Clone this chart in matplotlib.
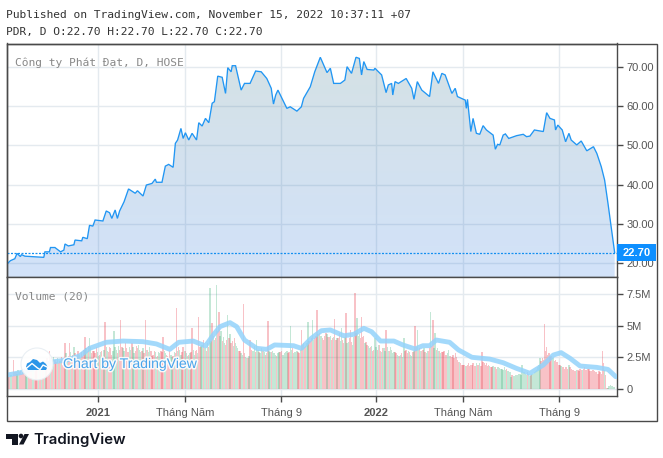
import numpy as np
import matplotlib
matplotlib.use('Agg')
import matplotlib.pyplot as plt
import matplotlib.patheffects as pe
from matplotlib.patches import Circle, Polygon, Rectangle
from matplotlib.lines import Line2D
from matplotlib.transforms import Affine2D

# sessions counted from the first bar of the chart
price_days = [0, 3, 7, 9, 12, 13, 16, 24, 33, 34, 38, 39, 43, 48, 51, 52, 55, 60, 61, 67, 68, 72, 74, 77, 79, 86, 89, 92, 94, 97, 99, 101, 105, 109, 115, 117, 122, 125, 130, 133, 134, 139, 142, 145, 149,
              151, 153, 156, 158, 160, 163, 166, 170, 172, 175, 178, 181, 184, 186, 189, 193, 196, 198, 201, 202, 205, 210, 213, 218, 223, 228, 233, 237, 239, 241, 243, 251, 254, 260, 264, 266, 272, 276, 281, 287,
              290, 293, 299, 303, 305, 309, 313, 316, 318, 320, 323, 329, 330, 336, 340, 342, 345, 346, 348, 351, 358, 363, 365, 368, 372, 379, 382, 387, 390, 393, 399, 402, 404, 411, 412, 413, 416, 418, 421, 424, 427, 430, 436, 438, 440, 442, 445, 447, 450, 457, 463, 466, 469, 473, 481, 484, 487, 491, 492, 494, 498, 501, 504, 506, 511, 515, 520, 526, 529, 533, 536, 539, 545]
price_values = [19.8, 20.65, 21.15, 22.5, 21.7, 22.2, 21.8, 21.65, 21.5, 22.9, 22.9, 24.0, 24.0, 22.9, 23.35, 24.9, 24.4, 24.7, 25.9, 25.7, 26.6, 26.25, 29.65, 29.45, 31.0, 30.75, 33.3, 32.85, 31.4, 33.55, 31.4, 33.3, 35.65, 38.9, 37.8, 38.45, 37.1, 39.9, 40.3, 41.4, 40.6, 40.6, 44.7, 45.15, 44.4,
                50.5, 51.35, 54.3, 51.75, 53.2, 51.35, 53.05, 51.35, 55.75, 54.9, 56.85, 55.75, 60.7, 61.1, 67.6, 67.3, 63.2, 69.75, 68.7, 70.25, 70.25, 64.05, 65.75, 65.75, 68.9, 68.7, 67.0, 64.5, 60.5, 62.8, 64.05, 59.4, 59.8, 58.7, 59.8, 61.95, 64.9, 68.7, 72.4, 68.5,
                69.6, 65.75, 65.75, 66.6, 70.0, 68.3, 72.4, 72.1, 67.9, 71.3, 69.3, 69.15, 69.6, 67.9, 63.4, 65.35, 65.75, 62.8, 66.2, 65.75, 67.0, 64.5, 61.7, 66.2, 64.05, 62.4, 68.7, 65.75, 68.3, 67.9, 63.2, 64.5, 62.4, 61.5, 59.4, 61.7, 53.5, 56.85, 53.05, 52.8, 55.0, 53.9, 52.6, 49.0, 50.25, 50.1, 52.6, 52.9, 51.75, 52.45, 52.8, 52.2, 52.35, 53.9, 53.5, 58.3, 56.85, 56.45, 53.9, 55.15, 53.9, 50.9, 53.05, 51.35, 50.1, 51.1, 48.6, 49.65, 47.95, 44.55, 41.15, 35.25, 22.7]
last_price = 22.70

# volume, millions of shares, sessions 0, 2, 4 ...
volume_even = [1.0, 0.9, 1.1, 2.3, 1.3, 1.5, 1.4, 1.6, 1.3, 1.5,
               1.7, 1.4, 2.0, 1.6, 1.9, 1.5, 2.1, 1.8, 2.4, 3.0,
               2.3, 2.5, 2.1, 2.0, 2.2, 1.9, 3.6, 2.4, 3.6, 2.2,
               3.3, 2.5, 3.0, 2.4, 2.6, 4.1, 3.0, 4.0, 2.8, 3.0,
               3.3, 2.6, 2.9, 2.5, 5.3, 3.0, 3.3, 2.7, 4.6, 3.1,
               3.4, 5.45, 3.2, 3.6, 2.9, 3.3, 3.6, 2.8, 3.4, 3.45,
               2.9, 3.2, 5.45, 3.1, 3.3, 2.6, 3.0, 2.5, 2.9, 3.0,
               4.1, 2.8, 2.6, 3.0, 2.5, 2.9, 6.4, 3.3, 2.7, 3.3,
               3.0, 2.6, 2.8, 4.8, 2.7, 3.1, 5.7, 3.4, 3.85, 3.2,
               3.6, 8.0, 5.2, 3.9, 8.2, 6.1, 4.6, 4.1, 3.5, 5.85,
               4.3, 3.8, 4.0, 3.4, 3.0, 2.8, 6.7, 2.5, 2.4, 3.85,
               3.0, 3.4, 3.85, 2.9, 3.2, 3.0, 2.7, 5.4, 2.9, 3.0,
               2.8, 2.6, 2.9, 3.0, 2.7, 2.9, 2.8, 5.0, 3.2, 2.9,
               3.0, 2.8, 4.65, 3.6, 3.4, 5.3, 3.8, 5.45, 4.0, 6.25,
               4.4, 4.2, 3.9, 4.4, 4.1, 4.2, 4.0, 5.5, 4.0, 4.4,
               4.85, 3.6, 6.0, 3.7, 4.65, 3.5, 7.6, 5.6, 4.3, 5.7,
               4.2, 3.7, 3.4, 3.3, 3.0, 4.0, 3.1, 3.45, 2.9, 3.2,
               4.65, 3.0, 3.3, 2.8, 2.95, 2.7, 2.6, 2.8, 4.0, 3.1,
               3.0, 2.7, 2.9, 5.0, 4.65, 3.2, 3.0, 3.2, 2.8, 3.0,
               6.05, 5.45, 4.4, 3.2, 3.0, 2.9, 3.0, 2.7, 3.1, 2.6,
               2.7, 2.85, 2.3, 2.1, 1.85, 1.9, 1.8, 2.0, 1.9, 2.0,
               1.8, 1.9, 2.0, 2.9, 2.0, 2.0, 1.9, 1.7, 1.8, 1.75,
               1.7, 1.65, 1.6, 1.7, 1.6, 1.4, 0.95, 1.0, 1.1, 1.05,
               1.2, 1.85, 1.3, 1.1, 1.2, 1.1, 1.2, 1.4, 1.7, 2.4,
               2.4, 5.1, 3.3, 2.8, 2.6, 2.4, 2.3, 2.1, 1.9, 1.75,
               1.6, 1.7, 1.85, 1.6, 1.5, 1.4, 1.5, 1.6, 1.5, 1.75,
               1.5, 1.6, 1.4, 1.5, 1.3, 1.2, 1.3, 3.0, 1.5, 0.03,
               0.25, 0.2, 0.1]
# sessions 1, 3, 5 ...
volume_odd = [0.9, 1.1, 1.0, 1.3, 1.2, 1.3, 1.2, 1.4, 1.3, 1.4,
              1.5, 1.6, 1.4, 1.7, 1.8, 1.6, 1.9, 2.0, 2.2, 2.4,
              2.1, 2.3, 2.4, 2.2, 2.5, 2.3, 2.8, 2.6, 2.9, 2.7,
              2.8, 3.0, 2.7, 2.9, 3.1, 3.2, 3.4, 3.3, 3.0, 2.8,
              2.9, 2.7, 3.0, 3.1, 3.3, 2.9, 3.2, 3.0, 3.3, 2.8,
              3.1, 3.3, 3.0, 3.2, 2.9, 3.1, 3.3, 3.0, 3.2, 3.1,
              3.0, 2.8, 3.1, 2.9, 3.0, 2.7, 2.9, 2.6, 2.8, 2.9,
              3.0, 2.7, 2.5, 2.7, 2.6, 2.8, 3.0, 3.1, 2.9, 3.0,
              2.8, 2.7, 2.9, 3.1, 3.0, 2.8, 3.3, 3.5, 3.2, 3.0,
              3.3, 3.8, 4.2, 4.0, 4.6, 4.2, 3.8, 3.6, 3.9, 4.0,
              3.6, 3.4, 3.6, 3.2, 3.0, 2.7, 2.8, 2.4, 2.6, 3.1,
              3.0, 2.9, 3.1, 2.8, 3.0, 2.9, 2.8, 3.0, 2.9, 2.8,
              2.7, 2.8, 2.9, 2.7, 2.8, 3.0, 2.9, 3.1, 2.8, 2.9,
              2.9, 3.1, 3.5, 3.3, 3.6, 3.8, 4.0, 3.9, 4.2, 4.3,
              4.2, 4.0, 4.2, 4.3, 4.1, 3.9, 4.1, 3.9, 4.0, 3.8,
              3.9, 4.1, 3.6, 4.0, 3.7, 4.1, 4.4, 4.2, 4.0, 4.1,
              3.6, 3.5, 3.2, 3.4, 3.1, 3.3, 3.5, 3.0, 3.2, 3.0,
              3.3, 3.0, 3.1, 2.9, 2.8, 2.6, 2.7, 2.5, 3.0, 2.8,
              2.9, 2.6, 3.0, 3.3, 3.1, 3.0, 3.1, 2.9, 3.0, 3.2,
              3.4, 3.2, 3.1, 3.0, 2.8, 2.9, 2.7, 2.8, 2.6, 2.5,
              2.4, 2.5, 2.1, 2.0, 1.9, 1.8, 1.9, 1.8, 1.9, 1.8,
              2.0, 1.9, 1.8, 2.1, 1.9, 1.8, 1.8, 1.7, 1.7, 1.6,
              1.7, 1.6, 1.5, 1.5, 1.4, 1.3, 1.1, 1.0, 1.1, 1.2,
              1.1, 1.3, 1.2, 1.3, 1.0, 1.2, 1.3, 1.5, 1.9, 2.2,
              2.3, 3.0, 2.7, 2.5, 2.4, 2.2, 2.1, 1.9, 1.8, 1.7,
              1.7, 1.6, 1.7, 1.5, 1.4, 1.5, 1.4, 1.5, 1.6, 1.5,
              1.6, 1.4, 1.5, 1.4, 1.3, 1.4, 1.2, 2.0, 1.1, 0.02,
              0.3, 0.2, 0.15]
# u = closed up (green), d = closed down (red)
dirs_even = ('dduddudddu' 'ddududdudd' 'dudduddudd' 'uddudduudd' 'duuddudduu' 'ududdududu' 'uuddudduud'
             'dudduuddud' 'duududdudu' 'uuduuduudu' 'uddudududd' 'uuuduudduu' 'ududuududu' 'uddudududd'
             'duddduddud' 'uddududuud' 'dduddudduu' 'duuududdud' 'uuddudduud' 'uduuddddud' 'dddudddddd'
             'ddudddddud' 'uuuuduuuuu' 'uuuuuduuuu' 'dddddudddd' 'ddudddddud' 'ddddddddud' 'uuu')
dirs_odd = ('duddudddud' 'dudddudddu' 'ddudddudud' 'dduddududd' 'udduudduud' 'ddudduuddu' 'dduuddudud'
            'uddudduudu' 'uddududuud' 'duuddududd' 'duuududuud' 'uduuduuudu' 'uuduuuduuu' 'dudduddudu'
            'uddudduddu' 'duuddududd' 'uduuduuddu' 'uduuduuudd' 'duuduuddud' 'duduudduud' 'dddddudddd'
            'udddddudud' 'uuuuuuduuu' 'uuuduuuuud' 'ddddudddud' 'dddddudddd' 'dddddddddu' 'uuu')

volume_ma_days = [0, 12, 24, 42, 54, 65, 74, 89, 104, 122, 134, 146, 154, 167, 178, 185, 191, 200, 206, 213, 224, 233, 240, 257, 264, 273, 282, 290,
                  302, 311, 320, 327, 335, 347, 355, 366, 373, 379, 385, 397, 405, 417, 433, 445, 457, 469, 481, 490, 497, 505, 514, 529, 539, 546]
volume_ma_values = [1.08, 1.27, 1.61, 2.14, 2.28, 2.59, 3.2, 3.68, 3.78, 3.73, 3.55, 3.12, 3.68, 3.78, 3.39, 4.26, 4.92, 5.24, 4.92, 3.86, 3.2, 3.12, 3.47, 3.41, 3.2, 4.0, 4.6, 4.66,
                    4.2, 4.31, 4.79, 4.52, 3.78, 3.78, 3.47, 3.15, 3.41, 3.41, 3.86, 3.68, 3.07, 2.49, 2.35, 2.06, 1.61, 1.22, 1.88, 2.67, 2.86, 2.41, 1.8, 1.69, 1.53, 0.95]

date_ticks = [81.9, 159.9, 246, 331.2, 409.2, 495.3]
date_labels = ['2021', 'Tháng Năm', 'Tháng 9', '2022', 'Tháng Năm', 'Tháng 9']
price_ticks = [20, 30, 40, 50, 60, 70]
volume_ticks = [0, 2.5, 5, 7.5]
volume_labels = ['0', '2.5M', '5M', '7.5M']

W, H = 663, 458
ink = '#4a4a4a'
blue = '#2196f3'
sans = ['Liberation Sans', 'DejaVu Sans']
mono = ['DejaVu Sans Mono']


def ax_box(x0, y0, x1, y1):
    return [x0 / W, 1 - y1 / H, (x1 - x0) / W, (y1 - y0) / H]


def bar_colors(dirs):
    return ['#53b987' if d == 'u' else '#eb4d5c' for d in dirs]


fig = plt.figure(figsize=(W / 100, H / 100), dpi=100, facecolor='white')
px = Affine2D().scale(1, -1).translate(0, H)  # reference pixels, y down

ax1 = fig.add_axes(ax_box(6.5, 43.5, 617, 277))
ax2 = fig.add_axes(ax_box(6.5, 277, 617, 396), sharex=ax1)

xmin, xmax = -0.45, 547.1
ymin, ymax = 16.5, 75.9

# area under the price with its soft vertical gradient
top_c = np.array([70, 125, 135, 0.23])
bot_c = np.array([30, 110, 225, 0.2])
t = np.linspace(0, 1, 128)[:, None]
grad = top_c * (1 - t) + bot_c * t
grad[:, :3] /= 255
area = ax1.fill_between(price_days, price_values, ymin, facecolor='none', edgecolor='none')
im = ax1.imshow(grad[:, None, :], extent=[xmin, xmax, ymin, ymax], aspect='auto', zorder=1.5)
im.set_clip_path(area.get_paths()[0], transform=ax1.transData)
ax1.plot(price_days, price_values, color=blue, lw=0.95, zorder=3, solid_joinstyle='miter')
ax1.axhline(last_price, color='#1490f0', lw=0.9, ls=(0, (1.6, 1.2)), zorder=3)
ax1.set_xlim(xmin, xmax)
ax1.set_ylim(ymin, ymax)
ax1.set_yticks(price_ticks, [f'{v:.2f}' for v in price_ticks])

# price tag on the scale
ax1.add_patch(Rectangle((1, last_price - 2.16), 39 / 610.5, 4.32, transform=ax1.get_yaxis_transform(),
                        clip_on=False, facecolor='#0e8fff', edgecolor='none', zorder=5))
ax1.text(1 + 19.5 / 610.5, last_price, f'{last_price:.2f}', transform=ax1.get_yaxis_transform(),
         color='white', fontsize=8, fontweight='bold', family=sans, ha='center', va='center', zorder=6, clip_on=False)

# volume pane
ax2.bar(np.arange(len(volume_even)) * 2, volume_even, width=1.2, color=bar_colors(dirs_even),
        alpha=0.34, linewidth=0, zorder=2)
ax2.bar(np.arange(len(volume_odd)) * 2 + 1, volume_odd, width=1.2, color=bar_colors(dirs_odd),
        alpha=0.34, linewidth=0, zorder=2)
ax2.plot(volume_ma_days, volume_ma_values, color='#93d3fb', lw=3.5, alpha=0.85, zorder=3,
         solid_capstyle='round')
ax2.set_ylim(-0.58, 8.86)
ax2.set_yticks(volume_ticks, volume_labels)
ax2.set_xticks(date_ticks, date_labels)

for ax in (ax1, ax2):
    ax.set_axisbelow(True)
    ax.grid(True, color='#e4eaef', lw=1)
    ax.yaxis.tick_right()
    for s in ax.spines.values():
        s.set_color(ink)
        s.set_linewidth(1)
    ax.tick_params(axis='y', length=4, width=1, color=ink, labelcolor='#555555', labelsize=8, pad=3)
    ax.tick_params(axis='x', length=4, width=1, color=ink, labelcolor='#555555', labelsize=8, pad=5)
    for lab in ax.get_yticklabels() + ax.get_xticklabels():
        lab.set_family(sans)
ax1.set_xticks(date_ticks)
ax1.tick_params(axis='x', length=0, labelbottom=False)
for i in (0, 3):
    ax2.get_xticklabels()[i].set_fontweight('bold')

# outer frame
fig.add_artist(Rectangle((6.5, 43.5), 650, 377.5, transform=px, fill=False, edgecolor=ink, lw=1))

# texts
fig.text(6 / W, 1 - 14.5 / H, 'Published on TradingView.com, November 15, 2022 10:37:11 +07',
         family=mono, fontsize=8.1, color='#333333', va='center')
fig.text(6 / W, 1 - 31.5 / H, 'PDR, D O:22.70 H:22.70 L:22.70 C:22.70',
         family=mono, fontsize=8.1, color='#333333', va='center')
fig.text(15 / W, 1 - 63 / H, 'Công ty Phát Đạt, D, HOSE', family=mono, fontsize=8.1, color='#888888', va='center')
fig.text(15 / W, 1 - 296.5 / H, 'Volume (20)', family=mono, fontsize=8.1, color='#888888', va='center')

# watermark
fig.add_artist(Circle((37, 364), 16, transform=px, facecolor='white', edgecolor='#e8eef3', lw=0.8, alpha=0.92, zorder=6))
fig.add_artist(Polygon([(26, 367), (27, 363.5), (30, 362), (33, 359), (37, 360), (40, 363), (43, 361.5), (46, 364),
                        (47.5, 367), (46, 370), (28, 370)], transform=px, facecolor='#2b95e8', edgecolor='none', zorder=7))
fig.add_artist(Line2D([25.5, 32, 37.5, 40, 43, 48], [369, 363.5, 368, 369.5, 365, 367.5], transform=px,
                      color='white', lw=1, zorder=8))
fig.text(63 / W, 1 - 364 / H, 'Chart by TradingView', family=sans, fontsize=10.1, color='#4ba5ea', va='center', zorder=7,
         path_effects=[pe.withStroke(linewidth=2.2, foreground='white', alpha=0.9)])

# footer logo
fig.add_artist(Polygon([(6, 434), (17.5, 434), (17.5, 444.5), (11.5, 444.5), (11.5, 439), (6, 439)], transform=px,
                       facecolor='#131722', edgecolor='none'))
fig.add_artist(Circle((21, 436), 2.3, transform=px, facecolor='#131722', edgecolor='none'))
fig.add_artist(Polygon([(24.5, 434), (29, 434), (23.5, 444.5), (19, 444.5)], transform=px,
                       facecolor='#131722', edgecolor='none'))
fig.text(33 / W, 1 - 439.5 / H, 'TradingView', family=['Inter', 'DejaVu Sans'], fontsize=10.8, fontweight='semibold',
         color='#131722', va='center')

plt.savefig('out.png', dpi=100)
